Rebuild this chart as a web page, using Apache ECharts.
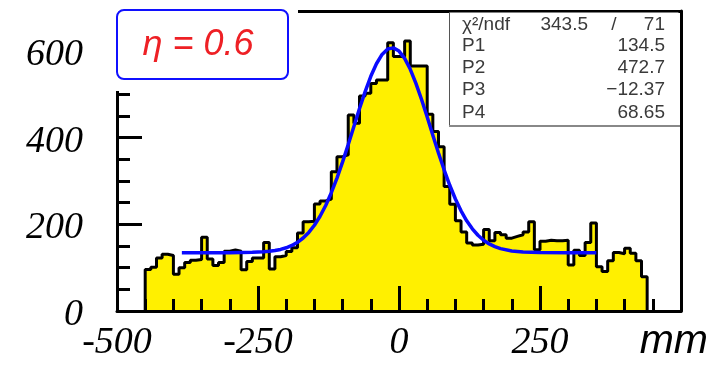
<!DOCTYPE html>
<html>
<head>
<meta charset="utf-8">
<script src="https://cdn.jsdelivr.net/npm/echarts@6/dist/echarts.min.js"></script>
<style>html,body{margin:0;padding:0;background:#fff}#c{width:712px;height:368px}</style>
</head>
<body>
<div id="c"></div>
<script>
// ---- data ----
const binLow = -450;
const binWidth = 10;
const counts = [
  96, 101, 122, 131, 128, 85, 100, 112, 117, 119,
  170, 120, 105, 112, 138, 141, 138, 95, 114, 122,
  122, 158, 97, 125, 128, 137, 146, 180, 206, 207,
  247, 254, 258, 321, 356, 360, 452, 433, 496, 502,
  525, 533, 533, 619, 587, 587, 623, 565, 565, 565,
  454, 414, 379, 287, 246, 208, 182, 157, 152, 154,
  188, 162, 181, 176, 168, 172, 176, 182, 206, 141,
  161, 163, 162, 162, 163, 106, 140, 128, 158, 203,
  102, 91, 116, 135, 132, 145, 133, 116, 79
];
const fitX = [-385, -340, -300, -260, -240, -230, -220, -210, -200, -190, -180, -170, -160, -150, -140, -130, -120, -110, -100, -90, -80, -70, -60, -50, -40, -30, -20, -10, 0, 10, 20, 30, 40, 50, 60, 70, 80, 90, 100, 110, 120, 130, 140, 150, 160, 170, 180, 200, 220, 250, 300, 350];
const fitY = [134.5, 134.5, 134.6, 135.3, 136.4, 137.6, 139.4, 142, 145.8, 151.1, 158.5, 168.4, 181.3, 197.8, 218.5, 243.3, 272.8, 306.5, 343.9, 383.9, 425.5, 467, 506.1, 541.3, 570.4, 591.8, 604.3, 606.9, 599.6, 582.8, 557.5, 525.2, 487.8, 447.3, 405.6, 364.6, 325.7, 290, 258.3, 231, 208.1, 189.5, 174.7, 163.3, 154.7, 148.4, 143.8, 138.5, 136, 135, 134.5, 134.5];
const xRange = [-500, 500];
const yRange = [0, 692];
const xTickStep = 250;
const yTickStep = 200;
const xUnit = 'mm';
const labelText = '\u03B7 = 0.6';
const chiLabel = '\u03C7\u00B2/ndf';
const chiValue = '343.5';
const ndfValue = '71';
const parNames = ['P1', 'P2', 'P3', 'P4'];
const parValues = ['134.5', '472.7', '\u221212.37', '68.65'];

// ---- build ----
const histData = [[binLow, 0]];
counts.forEach((v, k) => histData.push([binLow + k * binWidth, v]));
histData.push([binLow + counts.length * binWidth, counts[counts.length - 1]]);
histData.push([binLow + counts.length * binWidth, 0]);
const fitData = fitX.map((x, i) => [x, fitY[i]]);

const chart = echarts.init(document.getElementById('c'));
const axisFont = {fontFamily: '"Liberation Serif", serif', fontStyle: 'italic', fontSize: 38, color: '#000'};
const black3 = {color: '#000', width: 3};
const statFont = '19px "Liberation Sans", sans-serif';
const statColor = '#3a3a3a';

const statRows = [];
const rowY = [25, 46, 68, 90, 113];
statRows.push({type: 'text', style: {text: chiLabel, x: 462, y: rowY[0], fill: statColor, font: statFont, verticalAlign: 'middle', align: 'left'}});
statRows.push({type: 'text', style: {text: chiValue, x: 588, y: rowY[0], fill: statColor, font: statFont, verticalAlign: 'middle', align: 'right'}});
statRows.push({type: 'text', style: {text: '/', x: 614, y: rowY[0], fill: statColor, font: statFont, verticalAlign: 'middle', align: 'center'}});
statRows.push({type: 'text', style: {text: ndfValue, x: 665, y: rowY[0], fill: statColor, font: statFont, verticalAlign: 'middle', align: 'right'}});
parNames.forEach((n, i) => {
  statRows.push({type: 'text', style: {text: n, x: 462, y: rowY[i + 1], fill: statColor, font: statFont, verticalAlign: 'middle', align: 'left'}});
  statRows.push({type: 'text', style: {text: parValues[i], x: 665, y: rowY[i + 1], fill: statColor, font: statFont, verticalAlign: 'middle', align: 'right'}});
});

chart.setOption({
  animation: false,
  backgroundColor: '#fff',
  grid: {left: 117, right: 31, top: 11, bottom: 57, containLabel: false},
  xAxis: [{
    type: 'value', min: xRange[0], max: xRange[1], interval: xTickStep, position: 'bottom', z: 5,
    axisLine: {onZero: false, lineStyle: black3},
    axisTick: {inside: true, length: 25, lineStyle: black3},
    minorTick: {show: true, splitNumber: 5, length: 12, lineStyle: black3},
    splitLine: {show: false},
    axisLabel: Object.assign({margin: 13, formatter: v => (v === xRange[1] ? '' : String(v))}, axisFont)
  }, {
    type: 'value', min: xRange[0], max: xRange[1], position: 'top', z: 5,
    axisLine: {onZero: false, lineStyle: black3}, axisTick: {show: false}, axisLabel: {show: false}, splitLine: {show: false}
  }],
  yAxis: [{
    type: 'value', min: yRange[0], max: yRange[1], interval: yTickStep, position: 'left', z: 5,
    axisLine: {onZero: false, lineStyle: black3},
    axisTick: {inside: true, length: 25, lineStyle: black3},
    minorTick: {show: true, splitNumber: 4, length: 13, lineStyle: black3},
    splitLine: {show: false},
    axisLabel: Object.assign({margin: 34, showMaxLabel: false, verticalAlign: 'top', lineHeight: 8}, axisFont)
  }, {
    type: 'value', min: yRange[0], max: yRange[1], position: 'right', z: 5,
    axisLine: {onZero: false, lineStyle: black3}, axisTick: {show: false}, axisLabel: {show: false}, splitLine: {show: false}
  }],
  series: [{
    type: 'line', data: histData, step: 'end', showSymbol: false, z: 2,
    lineStyle: {color: '#000', width: 3},
    areaStyle: {color: '#fff000', opacity: 1}
  }, {
    type: 'line', data: fitData, showSymbol: false, z: 3, smooth: false,
    lineStyle: {color: '#0a0aff', width: 3.5}
  }],
  graphic: [
    {type: 'rect', z: 100, shape: {x: 112, y: 0, width: 186, height: 91}, style: {fill: '#fff'}},
    {type: 'rect', z: 101, shape: {x: 117, y: 10, width: 171, height: 69, r: 7}, style: {fill: '#fff', stroke: '#1010ff', lineWidth: 2}},
    {type: 'text', z: 102, style: {text: labelText, x: 198, y: 45, fill: '#ee2025', font: 'italic 36px "Liberation Sans", sans-serif', align: 'center', verticalAlign: 'middle'}},
    {type: 'rect', z: 100, shape: {x: 449.5, y: 12.5, width: 229, height: 113.5}, style: {fill: '#fff'}},
    {type: 'line', z: 101, shape: {x1: 449.5, y1: 12, x2: 449.5, y2: 126}, style: {stroke: '#555', lineWidth: 1}},
    {type: 'line', z: 101, shape: {x1: 449, y1: 126, x2: 680, y2: 126}, style: {stroke: '#888', lineWidth: 2}},
    {type: 'group', z: 102, children: statRows.map(r => Object.assign(r, {z: 102}))},
    {type: 'text', z: 102, style: {text: xUnit, x: 708, y: 342, fill: '#000', font: 'italic 41px "Liberation Sans", sans-serif', align: 'right', verticalAlign: 'middle'}}
  ]
});
</script>
</body>
</html>
